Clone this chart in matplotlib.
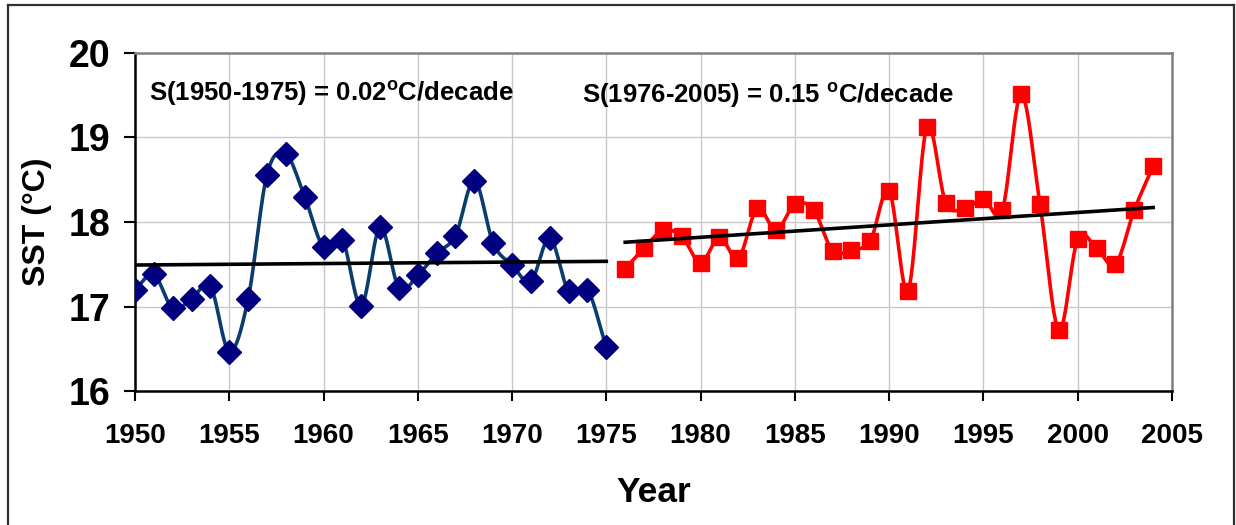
import numpy as np
import matplotlib
matplotlib.use("Agg")
import matplotlib.pyplot as plt
from matplotlib.lines import Line2D

plt.rcParams['font.family'] = ['Liberation Sans', 'DejaVu Sans']
plt.rcParams['font.weight'] = 'bold'
plt.rcParams['mathtext.fontset'] = 'custom'
plt.rcParams['mathtext.rm'] = 'Liberation Sans:bold'
plt.rcParams['mathtext.default'] = 'rm'

# data
years_early = list(range(1950, 1976))
sst_early = [17.20, 17.38, 16.98, 17.09, 17.24, 16.47, 17.09, 18.56, 18.80, 18.30,
             17.70, 17.79, 17.01, 17.94, 17.22, 17.37, 17.63, 17.84, 18.49, 17.75,
             17.49, 17.30, 17.81, 17.18, 17.20, 16.52]

years_late = list(range(1976, 2005))
sst_late = [17.45, 17.69, 17.90, 17.83, 17.52, 17.82, 17.57, 18.16, 17.90, 18.21,
            18.14, 17.66, 17.67, 17.78, 18.37, 17.19, 19.12, 18.23, 18.16, 18.27,
            18.14, 19.51, 18.21, 16.72, 17.80, 17.69, 17.50, 18.14, 18.66]

label_early = "S(1950-1975) = 0.02$^{o}$C/decade"
label_late = "S(1976-2005) = 0.15 $^{o}$C/decade"


# Excel style smoothed line (Catmull-Rom through the points)
def smooth(x, y, n=24):
    x = np.asarray(x, float)
    y = np.asarray(y, float)
    px = np.concatenate([[2 * x[0] - x[1]], x, [2 * x[-1] - x[-2]]])
    py = np.concatenate([[2 * y[0] - y[1]], y, [2 * y[-1] - y[-2]]])
    xs, ys = [], []
    t = np.linspace(0, 1, n, endpoint=False)
    for i in range(1, len(px) - 2):
        for p, out in ((px, xs), (py, ys)):
            p0, p1, p2, p3 = p[i - 1], p[i], p[i + 1], p[i + 2]
            out.extend(0.5 * (2 * p1 + (-p0 + p2) * t
                              + (2 * p0 - 5 * p1 + 4 * p2 - p3) * t ** 2
                              + (-p0 + 3 * p1 - 3 * p2 + p3) * t ** 3))
    xs.append(x[-1])
    ys.append(y[-1])
    return np.array(xs), np.array(ys)


fig = plt.figure(figsize=(12.36, 5.25), dpi=100)
ax = fig.add_axes([0.1092, 0.2547, 0.8390, 0.6449])

ax.grid(True, color='#c8c8c8', linewidth=1.0)
ax.set_axisbelow(True)

sx, sy = smooth(years_early, sst_early)
ax.plot(sx, sy, color='#0b3c6e', linewidth=2.6, zorder=3)
ax.plot(years_early, sst_early, linestyle='none', marker='D', markersize=12,
        color='#000080', zorder=4)

sx, sy = smooth(years_late, sst_late)
ax.plot(sx, sy, color='#ff0000', linewidth=2.6, zorder=3)
ax.plot(years_late, sst_late, linestyle='none', marker='s', markersize=12,
        color='#ff0000', zorder=4)

# linear trends
for yrs, vals in ((years_early, sst_early), (years_late, sst_late)):
    k, b = np.polyfit(yrs, vals, 1)
    xx = np.array([yrs[0], yrs[-1]])
    ax.plot(xx, k * xx + b, color='black', linewidth=2.6, zorder=5)

ax.text(1950.73, 19.43, label_early, fontsize=18.5, fontweight='bold', va='baseline')
ax.text(1973.7, 19.41, label_late, fontsize=18.5, fontweight='bold', va='baseline')

ax.set_xlim(1950, 2005)
ax.set_ylim(16, 20)
ax.set_xticks(range(1950, 2006, 5))
ax.set_yticks([16, 17, 18, 19, 20])
ax.tick_params(axis='x', labelsize=20, length=7, width=1.5, pad=16)
ax.tick_params(axis='y', labelsize=27, length=8, width=1.5, pad=10)
for lab in ax.get_xticklabels() + ax.get_yticklabels():
    lab.set_fontweight('bold')

ax.set_xlabel("Year", fontsize=25.5, fontweight='bold', labelpad=19)
ax.set_ylabel("SST (°C)", fontsize=23, fontweight='bold', labelpad=12)

for side in ('left', 'bottom'):
    ax.spines[side].set_color('black')
    ax.spines[side].set_linewidth(1.8)
for side in ('top', 'right'):
    ax.spines[side].set_color('#808080')
    ax.spines[side].set_linewidth(1.8)

# outer chart border (bottom edge is cut off in the reference)
bx0, bx1, by1 = 8 / 1236, 1234 / 1236, 1 - 5 / 525
for xs_, ys_ in (([bx0, bx0], [0, by1]), ([bx0, bx1], [by1, by1]), ([bx1, bx1], [0, by1])):
    fig.add_artist(Line2D(xs_, ys_, transform=fig.transFigure, color='#303030', linewidth=1.6))

fig.savefig("out.png", dpi=100)
